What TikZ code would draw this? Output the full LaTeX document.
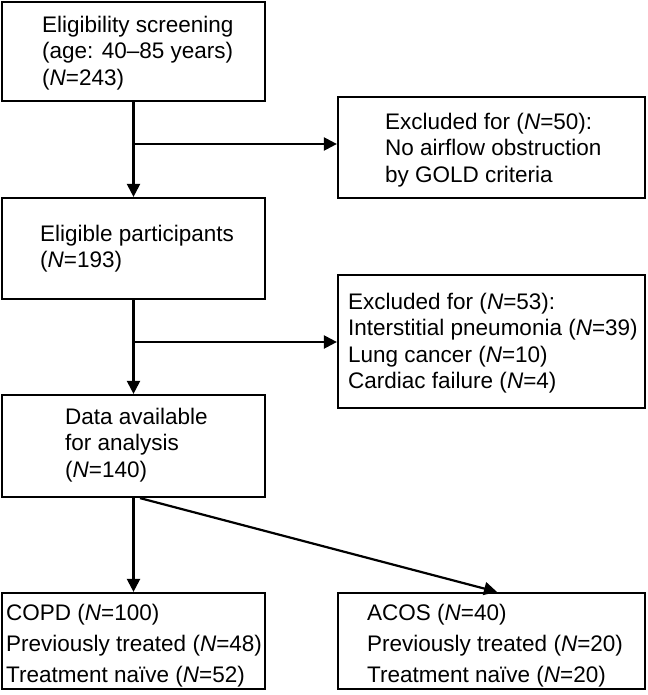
\documentclass[tikz,border=0pt]{standalone}
\usepackage{fontspec}
\setmainfont{Liberation Sans}
\usetikzlibrary{arrows.meta}
\begin{document}
\begin{tikzpicture}[x=1pt,y=-1pt,
  box/.style={draw=black, line width=2.2pt, rectangle, inner sep=0pt},
  txt/.style={anchor=north west, inner sep=0pt, align=left, font=\fontsize{22.5}{26.5}\selectfont},
  txtb/.style={anchor=north west, inner sep=0pt, align=left, font=\fontsize{22.5}{31}\selectfont},
  arr/.style={line width=2.2pt, -{Triangle[length=13pt,width=13pt]}}]
\useasboundingbox (0,0) rectangle (647,695);
% boxes
\node[box, minimum width=263pt, minimum height=99pt]  (b1)  at (133.5,51.5) {};
\node[box, minimum width=307pt, minimum height=101pt] (ex1) at (491.5,147.5) {};
\node[box, minimum width=263pt, minimum height=101pt] (b2)  at (133.5,248.5) {};
\node[box, minimum width=307pt, minimum height=133pt] (ex2) at (491.5,341.5) {};
\node[box, minimum width=263pt, minimum height=102pt] (b3)  at (133.5,446) {};
\node[box, minimum width=263pt, minimum height=96pt]  (b4)  at (133.5,641) {};
\node[box, minimum width=307pt, minimum height=96pt]  (b5)  at (491.5,641) {};
% texts
\node[txt] (t1) at (42,13.45) {\strut Eligibility screening\\(age: 40–85 years)\\(\textit{N}=243)};
\node[txt] (t2) at (40,222.45) {\strut Eligible participants\\(\textit{N}=193)};
\node[txt] (tx1) at (385,110.45) {\strut Excluded for (\textit{N}=50):\\No airflow obstruction\\by GOLD criteria};
\node[txt] (tx2) at (348,290.45) {\strut Excluded for (\textit{N}=53):\\Interstitial pneumonia (\textit{N}=39)\\Lung cancer (\textit{N}=10)\\Cardiac failure (\textit{N}=4)};
\node[txt] (t3) at (65,405.45) {\strut Data available\\for analysis\\(\textit{N}=140)};
\node[txtb] (t4) at (6,598.3) {\strut COPD (\textit{N}=100)\\Previously treated (\textit{N}=48)\\Treatment naïve (\textit{N}=52)};
\node[txtb] (t5) at (367,598.3) {\strut ACOS (\textit{N}=40)\\Previously treated (\textit{N}=20)\\Treatment naïve (\textit{N}=20)};
% connectors
\coordinate (c1) at (133.5,144);
\coordinate (c2) at (133.5,342);
\draw[arr] (b1) -- (b2);
\draw[arr] (c1) -- (c1 -| ex1.west);
\draw[arr] (b2) -- (b3);
\draw[arr] (c2) -- (c2 -| ex2.west);
\draw[arr] (b3) -- (b4);
\draw[arr] ([xshift=6.5pt]b3.south) -- ([xshift=5.5pt]b5.north);
\end{tikzpicture}
\end{document}
